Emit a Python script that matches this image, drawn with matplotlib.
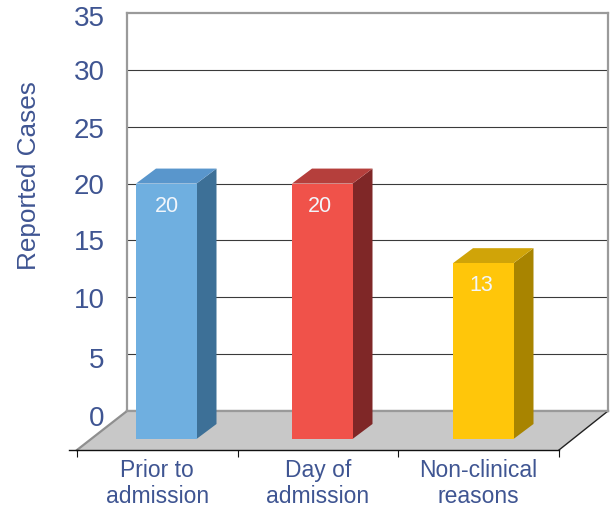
#!/usr/bin/env python3
"""Reported cases by timing, drawn as 3D-looking columns on a floor."""
import matplotlib
matplotlib.use('Agg')
import matplotlib.pyplot as plt
from matplotlib.patches import Polygon
from matplotlib.transforms import ScaledTranslation

plt.rcParams['font.family'] = ['Liberation Sans', 'DejaVu Sans']

# data
categories = ['Prior to\nadmission', 'Day of\nadmission', 'Non-clinical\nreasons']
values = [20, 20, 13]
value_ticks = [0, 5, 10, 15, 20, 25, 30, 35]
ylabel = 'Reported Cases'

# colours
front_colors = ['#6fafe0', '#f0524a', '#ffc60a']
side_colors = ['#3d7097', '#7f2727', '#a88400']
top_colors = ['#5996cc', '#b53f3c', '#d0a408']
text_color = '#3f5592'

# layout in pixels
W, H = 610, 508
WALL_L, WALL_R, WALL_T, WALL_B = 127, 608, 13, 411
FRONT_L, FRONT_R, FRONT_Y = 77, 559, 450
BAR_BOTTOM_Y = 439
DEPTH_X, DEPTH_Y = 20, 15
bar_lefts = [136, 292, 453]
BAR_W = 60.5
label_insets = [31, 28, 28]
# tick labels sit a few pixels off their gridlines, bottom ones lowest
tick_nudge = [5, 4, 1, 0, 0, 1, 0, 3]

fig = plt.figure(figsize=(W / 100, H / 100), dpi=100, facecolor='white')

# back wall: x runs in pixels, y in case counts
ax = fig.add_axes([WALL_L / W, 1 - WALL_B / H, (WALL_R - WALL_L) / W, (WALL_B - WALL_T) / H])
ax.set_xlim(WALL_L, WALL_R)
ax.set_ylim(0, 35)
ax.patch.set_alpha(0)
px = (WALL_B - WALL_T) / 35  # pixels per case

for s in ['top', 'left', 'right', 'bottom']:
    ax.spines[s].set_color('#9a9a9a')
    ax.spines[s].set_linewidth(1.6)
    ax.spines[s].set_zorder(2)

ax.set_xticks([])
ax.set_yticks(value_ticks)
ax.tick_params(axis='y', length=0, pad=16, labelsize=20, labelcolor=text_color)
for lab, n in zip(ax.get_yticklabels(), tick_nudge):
    lab.set_transform(lab.get_transform() + ScaledTranslation(0, -n / 100, fig.dpi_scale_trans))
for v in value_ticks[1:-1]:
    ax.axhline(v, color='#3a3a3a', linewidth=0.8, zorder=1)

# floor
floor_bottom = -(FRONT_Y - WALL_B) / px
floor = Polygon([(WALL_L, 0), (WALL_R, 0), (FRONT_R, floor_bottom), (FRONT_L, floor_bottom)],
                closed=True, facecolor='#c8c8c8', edgecolor='none', clip_on=False, zorder=3)
ax.add_patch(floor)
ax.plot([WALL_L, FRONT_L], [0, floor_bottom], color='#8f8f8f', lw=1.6, clip_on=False, zorder=4)
ax.plot([WALL_R, FRONT_R], [0, floor_bottom], color='#222222', lw=1.0, clip_on=False, zorder=4)
ax.plot([WALL_L, WALL_R], [0, 0], color='#9a9a9a', lw=1.6, clip_on=False, zorder=4)

# columns
base = -(BAR_BOTTOM_Y - WALL_B) / px
dy = DEPTH_Y / px
for left, v, inset, fc, sc, tc in zip(bar_lefts, values, label_insets, front_colors, side_colors, top_colors):
    right = left + BAR_W
    ax.add_patch(Polygon([(left, base), (right, base), (right, v), (left, v)],
                         facecolor=fc, edgecolor='none', clip_on=False, zorder=6))
    ax.add_patch(Polygon([(right, base), (right + DEPTH_X, base + dy), (right + DEPTH_X, v + dy), (right, v)],
                         facecolor=sc, edgecolor='none', clip_on=False, zorder=5))
    ax.add_patch(Polygon([(left, v), (right, v), (right + DEPTH_X, v + dy), (left + DEPTH_X, v + dy)],
                         facecolor=tc, edgecolor='none', clip_on=False, zorder=5))
    ax.text(left + inset, v - 1.98, str(v), color='#f2f6fb', fontsize=15.5, ha='center', va='center', zorder=7)

# front edge with the category ticks
ax2 = fig.add_axes([FRONT_L / W, 1 - FRONT_Y / H, (FRONT_R - FRONT_L) / W, 0.02])
ax2.patch.set_alpha(0)
ax2.set_xlim(0, 3)
ax2.set_ylim(0, 1)
ax2.set_yticks([])
for s in ['top', 'left', 'right']:
    ax2.spines[s].set_visible(False)
ax2.spines['bottom'].set_color('#111111')
ax2.spines['bottom'].set_linewidth(1.0)
ax2.set_xticks([0, 1, 2, 3])
ax2.set_xticklabels([])
ax2.tick_params(axis='x', which='major', length=5, width=0.8, color='#111111')
ax2.set_xticks([0.5, 1.5, 2.5], minor=True)
ax2.set_xticklabels(categories, minor=True, linespacing=1.15)
ax2.tick_params(axis='x', which='minor', length=0, pad=6.5, labelsize=16.5, labelcolor=text_color)
ax2.plot([-0.05, 0], [0, 0], color='#111111', lw=1.0, clip_on=False)

fig.text(29 / W, 1 - 176 / H, ylabel, rotation=90, color=text_color, fontsize=18.8,
         ha='center', va='center')

fig.savefig('out.png', dpi=100)
plt.close(fig)
